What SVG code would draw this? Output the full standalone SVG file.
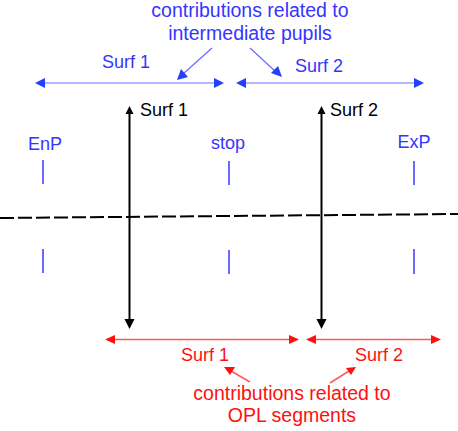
<svg xmlns="http://www.w3.org/2000/svg" width="458" height="431" viewBox="0 0 458 431">
<style>
text{font-family:"Liberation Sans",Arial,sans-serif;font-size:18px}
.big{font-size:19.5px}
.b{fill:#3535ff}
.r{fill:#ff1010}
.k{fill:#000}
.m{text-anchor:middle}
.bl{stroke:#6a6aff;stroke-width:1.2;fill:none}
.rl{stroke:#ff5a5a;stroke-width:1.5;fill:none}
.kl{stroke:#000;stroke-width:2;fill:none}
.tick{stroke:#4545ff;stroke-width:1.6}
.bh{fill:#2240ff}
.rh{fill:#ff1010}
</style>
<g id="axis">
<line x1="0" y1="218" x2="458" y2="214" stroke="#000" stroke-width="2" stroke-dasharray="14 4"/>
</g>
<g id="top-label">
<text class="b m big" x="250" y="17">contributions related to</text>
<text class="b m big" x="250" y="40">intermediate pupils</text>
</g>
<g id="blue-surf1">
<text class="b m" x="126" y="68">Surf 1</text>
</g>
<g id="blue-surf2">
<text class="b m" x="319" y="72">Surf 2</text>
</g>
<g id="enp">
<text class="b m" x="45" y="150">EnP</text>
<line class="tick" x1="43" y1="160" x2="43" y2="184"/>
<line class="tick" x1="43" y1="249" x2="43" y2="273"/>
</g>
<g id="stop">
<text class="b m" x="228" y="149">stop</text>
<line class="tick" x1="229" y1="161" x2="229" y2="185"/>
<line class="tick" x1="229" y1="250" x2="229" y2="274"/>
</g>
<g id="exp">
<text class="b m" x="414" y="148">ExP</text>
<line class="tick" x1="414" y1="161" x2="414" y2="185"/>
<line class="tick" x1="414" y1="249" x2="414" y2="274"/>
</g>
<g id="surf1">
<text class="k" x="140" y="116">Surf 1</text>
</g>
<g id="surf2">
<text class="k" x="330" y="116">Surf 2</text>
</g>
<g id="red-surf1">
<text class="r m" x="205" y="361">Surf 1</text>
</g>
<g id="red-surf2">
<text class="r m" x="379" y="361">Surf 2</text>
</g>
<g id="bottom-label">
<text class="r m big" x="292" y="400">contributions related to</text>
<text class="r m big" x="292" y="422">OPL segments</text>
</g>
<g id="connectors">
<line class="bl" x1="44" y1="83" x2="216" y2="83"/>
<polygon class="bh" points="35,83 45,78 45,88"/>
<polygon class="bh" points="224,83 214,78 214,88"/>
<line class="bl" x1="244" y1="83" x2="416" y2="83"/>
<polygon class="bh" points="236,83 246,78 246,88"/>
<polygon class="bh" points="424,83 414,78 414,88"/>
<line class="bl" x1="212" y1="48" x2="183" y2="74"/>
<polygon class="bh" points="177,80 181,69 188,77"/>
<line class="bl" x1="250" y1="48" x2="276" y2="72"/>
<polygon class="bh" points="282,77 271,73 278,66"/>
<line class="kl" x1="129.5" y1="112" x2="129.5" y2="320"/>
<polygon class="k" points="129.5,106 125.5,114 133.5,114"/>
<polygon class="k" points="129.5,329 124.5,319 134.5,319"/>
<line class="kl" x1="321.5" y1="112" x2="321.5" y2="320"/>
<polygon class="k" points="321.5,106 317.5,114 325.5,114"/>
<polygon class="k" points="321.5,329 316.5,319 326.5,319"/>
<line class="rl" x1="114" y1="339.5" x2="290" y2="339.5"/>
<polygon class="rh" points="105,339.5 115,335 115,344"/>
<polygon class="rh" points="299,339.5 289,335 289,344"/>
<line class="rl" x1="315" y1="339.5" x2="432" y2="339.5"/>
<polygon class="rh" points="306,339.5 316,335 316,344"/>
<polygon class="rh" points="441,339.5 431,335 431,344"/>
<line class="rl" x1="250" y1="382" x2="231" y2="371"/>
<polygon class="rh" points="224,367 235,367 230,375"/>
<line class="rl" x1="330" y1="383" x2="349" y2="371"/>
<polygon class="rh" points="356,367 351,375 346,368"/>
</g>
</svg>
